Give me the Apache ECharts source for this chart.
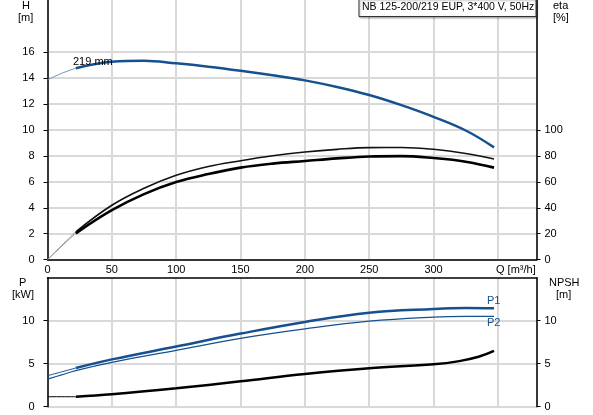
<!DOCTYPE html>
<html>
<head>
<meta charset="utf-8">
<script src="https://cdn.jsdelivr.net/npm/echarts@6.0.0/dist/echarts.min.js"></script>
<style>
html,body{margin:0;padding:0;background:#fff;}
#pumpchart{width:593px;height:415px;}
</style>
</head>
<body>
<div id="pumpchart"></div>
<script>
// flow values (m3/h) and readings for each curve
var qHead = [0, 11, 22, 50, 75, 100, 125, 150, 175, 200, 225, 250, 275, 300, 325, 347];
var head = [13.85, 14.35, 14.75, 15.25, 15.33, 15.12, 14.86, 14.55, 14.2, 13.81, 13.3, 12.68, 11.9, 11.0, 9.95, 8.65];

var qEta = [0, 11, 22, 50, 75, 100, 125, 150, 175, 200, 225, 250, 275, 300, 325, 347];
var etaPump = [0, 11, 21.5, 41.9, 55, 65, 71.8, 76.2, 80, 82.9, 85, 86.3, 86.4, 85, 81.8, 77.5];
var etaTotal = [0, 10.3, 20.3, 38.1, 50.5, 59.8, 66, 70.9, 74, 76, 78, 79.5, 79.8, 78.3, 75.5, 70.9];

var qPower = [0, 11, 22, 50, 100, 150, 200, 250, 300, 325, 347];
var p1 = [3.6, 4.05, 4.5, 5.5, 7.0, 8.5, 9.86, 10.93, 11.36, 11.47, 11.44];
var p2 = [3.2, 3.7, 4.2, 5.15, 6.55, 7.95, 9.05, 9.95, 10.42, 10.5, 10.5];

var qNpsh = [0, 22, 50, 100, 150, 200, 250, 300, 320, 335, 347];
var npsh = [1.16, 1.16, 1.44, 2.14, 2.95, 3.8, 4.47, 4.93, 5.3, 5.8, 6.48];

var qTicks = [0, 50, 100, 150, 200, 250, 300];
var hTicks = [0, 2, 4, 6, 8, 10, 12, 14, 16];
var etaTicks = [0, 20, 40, 60, 80, 100];
var pTicks = [0, 5, 10];

var FONT = 'Arial, "Liberation Sans", sans-serif';
var BLUE = '#15508f';
var GRIDC = '#d9d9d9';

function pairs(xs, ys, from, to){
    var out = [];
    for(var i=from;i<=to;i++){
        out.push([xs[i], ys[i]]);
    }
    return out;
}

function line(name, data, xi, yi, color, width){
    return {
        name: name,
        type: 'line',
        xAxisIndex: xi,
        yAxisIndex: yi,
        data: data,
        smooth: 0.4,
        showSymbol: false,
        silent: true,
        lineStyle: {color: color, width: width},
        z: 5
    };
}

function yAx(gi, pos, max, interval, ticks, split){
    return {
        type: 'value',
        gridIndex: gi,
        position: pos,
        min: 0,
        max: max,
        interval: interval,
        axisLine: {show: true, lineStyle: {color: '#000', width: 1.5}},
        axisTick: {show: true, customValues: ticks, length: 4, lineStyle: {color: '#000', width: 1}},
        axisLabel: {
            customValues: ticks,
            margin: pos === 'left' ? 13 : 8,
            color: '#000',
            fontSize: 11,
            fontFamily: FONT,
            formatter: function(v){ return ticks.indexOf(v) >= 0 ? String(v) : ''; }
        },
        splitLine: {show: split, lineStyle: {color: GRIDC, width: 2}}
    };
}

function label(text, x, y, color){
    return {type: 'text', left: x, top: y, z: 30, style: {text: text, font: '11px ' + FONT, fill: color || '#000'}};
}

var lastH = qHead.length - 1;
var lastE = qEta.length - 1;
var lastP = qPower.length - 1;

var option = {
    animation: false,
    backgroundColor: '#fff',
    grid: [
        {left: 47.5, right: 56.5, top: 0, height: 259.7},
        {left: 47.5, right: 56.5, top: 277.7, height: 129}
    ],
    xAxis: [
        {
            type: 'value', gridIndex: 0, min: 0, max: 380, interval: 50,
            axisLine: {show: true, onZero: false, lineStyle: {color: '#000', width: 1.5}},
            axisTick: {show: false},
            axisLabel: {
                customValues: qTicks, margin: 5, color: '#000', fontSize: 11, fontFamily: FONT,
                formatter: function(v){ return qTicks.indexOf(v) >= 0 ? String(v) : ''; }
            },
            splitLine: {show: true, lineStyle: {color: GRIDC, width: 2}}
        },
        {
            type: 'value', gridIndex: 1, min: 0, max: 380, interval: 50, position: 'top',
            axisLine: {show: true, onZero: false, lineStyle: {color: '#000', width: 1.5}},
            axisTick: {show: false},
            axisLabel: {show: false},
            splitLine: {show: true, lineStyle: {color: GRIDC, width: 2}}
        }
    ],
    yAxis: [
        yAx(0, 'left', 20, 2, hTicks, true),
        yAx(0, 'right', 200, 20, etaTicks, false),
        yAx(1, 'left', 15, 5, pTicks, true),
        yAx(1, 'right', 15, 5, pTicks, false)
    ],
    series: [
        line('H thin', pairs(qHead, head, 0, 2), 0, 0, '#6f8fb3', 1),
        line('H', pairs(qHead, head, 2, lastH), 0, 0, BLUE, 2.5),
        line('eta pump thin', pairs(qEta, etaPump, 0, 2), 0, 1, '#9a9a9a', 1),
        line('eta pump', pairs(qEta, etaPump, 2, lastE), 0, 1, '#111', 1.6),
        line('eta thin', pairs(qEta, etaTotal, 0, 2), 0, 1, '#9a9a9a', 1),
        line('eta', pairs(qEta, etaTotal, 2, lastE), 0, 1, '#000', 2.6),
        line('P1 thin', pairs(qPower, p1, 0, 2), 1, 2, BLUE, 1),
        line('P1', pairs(qPower, p1, 2, lastP), 1, 2, BLUE, 2.5),
        line('P2', pairs(qPower, p2, 0, lastP), 1, 2, BLUE, 1.2),
        line('NPSH thin', pairs(qNpsh, npsh, 0, 1), 1, 3, '#000', 1),
        line('NPSH', pairs(qNpsh, npsh, 1, qNpsh.length - 1), 1, 3, '#000', 2.5)
    ],
    graphic: [
        label('H', 22, 0),
        label('[m]', 18, 12),
        label('eta', 553, 0),
        label('[%]', 553, 12),
        label('P', 19, 277),
        label('[kW]', 12, 289),
        label('NPSH', 549, 277),
        label('[m]', 556, 289),
        label('Q [m³/h]', 496, 264),
        label('219 mm', 73, 56),
        label('P1', 487, 295, BLUE),
        label('P2', 487, 317, BLUE),
        {
            type: 'rect', left: 358.5, top: -1, z: 20,
            shape: {width: 177, height: 17},
            style: {fill: '#fff', stroke: '#333', lineWidth: 1, shadowBlur: 2, shadowOffsetX: 1, shadowOffsetY: 1, shadowColor: 'rgba(0,0,0,0.3)'}
        },
        {type: 'text', left: 362, top: 2, z: 31, style: {text: 'NB 125-200/219 EUP, 3*400 V, 50Hz', font: '10.5px ' + FONT, fill: '#000'}}
    ]
};

var pumpChart = echarts.init(document.getElementById('pumpchart'));
pumpChart.setOption(option);
</script>
</body>
</html>
